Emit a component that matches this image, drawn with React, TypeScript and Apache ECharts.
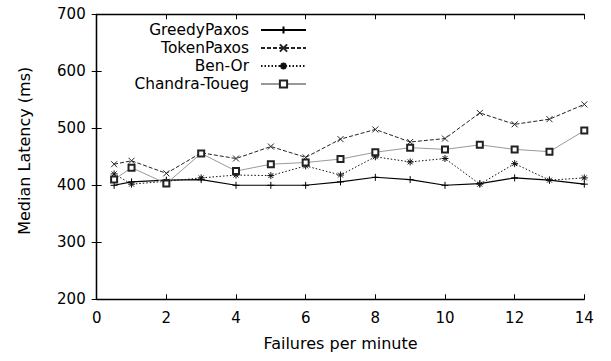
import React, { useEffect, useRef } from "react";
import * as echarts from "echarts";

const xValues = [0.5, 1, 2, 3, 4, 5, 6, 7, 8, 9, 10, 11, 12, 13, 14];
const greedyPaxos = [400, 406, 409, 410, 400, 400, 400, 406, 414, 410, 400, 403, 413, 409, 402];
const tokenPaxos = [437, 443, 421, 457, 447, 468, 449, 481, 498, 476, 482, 527, 507, 516, 542];
const benOr = [420, 402, 407, 413, 418, 417, 434, 418, 450, 441, 447, 402, 438, 409, 413];
const chandraToueg = [410, 431, 403, 456, 425, 437, 440, 446, 458, 466, 463, 471, 463, 459, 496];

const seriesNames = ["GreedyPaxos", "TokenPaxos", "Ben-Or", "Chandra-Toueg"];

const FONT = "DejaVu Sans";

const PLUS = "path://M0,5L10,5M5,0L5,10";
const CROSS = "path://M0,0L10,10M10,0L0,10";
const STAR = "path://M0,5L10,5M5,0L5,10M1.5,1.5L8.5,8.5M8.5,1.5L1.5,8.5";

function pairs(ys: number[]) {
  return xValues.map((x, i) => [x, ys[i]]);
}

export default function App() {
  const ref = useRef<HTMLDivElement>(null);
  useEffect(() => {
    if (!ref.current) return;
    const chart = echarts.init(ref.current, undefined, { renderer: "svg" });
    const axisLine = { show: true, lineStyle: { color: "#000", width: 1.3 } };
    const tick = { show: true, inside: true, length: 5, lineStyle: { color: "#000", width: 1 } };
    chart.setOption({
      animation: false,
      backgroundColor: "#fff",
      grid: { left: 96.7, right: 26.7, top: 14.3, bottom: 61.7 },
      legend: {
        data: seriesNames,
        orient: "vertical",
        align: "right",
        right: 304,
        top: 21,
        padding: 0,
        itemGap: 0,
        itemWidth: 45,
        itemHeight: 9,
        textStyle: {
          fontFamily: FONT,
          fontSize: 15.4,
          color: "#000",
          lineHeight: 18,
          padding: [0, 7, 0, 0],
        },
      },
      xAxis: [
        {
          type: "value",
          min: 0,
          max: 14,
          interval: 2,
          position: "bottom",
          axisLine,
          axisTick: tick,
          splitLine: { show: false },
          axisLabel: { fontFamily: FONT, fontSize: 15, color: "#000", margin: 11 },
          name: "Failures per minute",
          nameLocation: "middle",
          nameGap: 36,
          nameTextStyle: { fontFamily: FONT, fontSize: 16, color: "#000" },
        },
        {
          type: "value",
          min: 0,
          max: 14,
          interval: 2,
          position: "top",
          axisLine,
          axisTick: tick,
          splitLine: { show: false },
          axisLabel: { show: false },
        },
      ],
      yAxis: [
        {
          type: "value",
          min: 200,
          max: 700,
          interval: 100,
          position: "left",
          axisLine,
          axisTick: tick,
          splitLine: { show: false },
          axisLabel: { fontFamily: FONT, fontSize: 15, color: "#000", margin: 11 },
          name: "Median Latency (ms)",
          nameLocation: "middle",
          nameGap: 64,
          nameRotate: 90,
          nameTextStyle: { fontFamily: FONT, fontSize: 16, color: "#000", padding: [0, 0, 0, 12] },
        },
        {
          type: "value",
          min: 200,
          max: 700,
          interval: 100,
          position: "right",
          axisLine,
          axisTick: tick,
          splitLine: { show: false },
          axisLabel: { show: false },
        },
      ],
      series: [
        {
          name: seriesNames[0],
          type: "line",
          data: pairs(greedyPaxos),
          symbol: PLUS,
          symbolSize: 7,
          lineStyle: { color: "#000", width: 1.1, type: "solid" },
          itemStyle: { color: "#000", borderColor: "#000", borderWidth: 1 },
        },
        {
          name: seriesNames[1],
          type: "line",
          data: pairs(tokenPaxos),
          symbol: CROSS,
          symbolSize: 6,
          lineStyle: { color: "#222", width: 1, type: [4, 2] },
          itemStyle: { color: "#222", borderColor: "#222", borderWidth: 1 },
        },
        {
          name: seriesNames[2],
          type: "line",
          data: pairs(benOr),
          symbol: STAR,
          symbolSize: 7,
          lineStyle: { color: "#111", width: 1, type: [1.5, 2] },
          itemStyle: { color: "#111", borderColor: "#111", borderWidth: 1 },
        },
        {
          name: seriesNames[3],
          type: "line",
          data: pairs(chandraToueg),
          symbol: "emptyRect",
          symbolSize: 6,
          lineStyle: { color: "#999", width: 1, type: "solid" },
          itemStyle: { color: "#222", borderColor: "#222", borderWidth: 1 },
        },
      ],
    });
    return () => chart.dispose();
  }, []);
  return <div ref={ref} style={{ width: 611, height: 361, position: "absolute", left: 0, top: 0 }} />;
}
